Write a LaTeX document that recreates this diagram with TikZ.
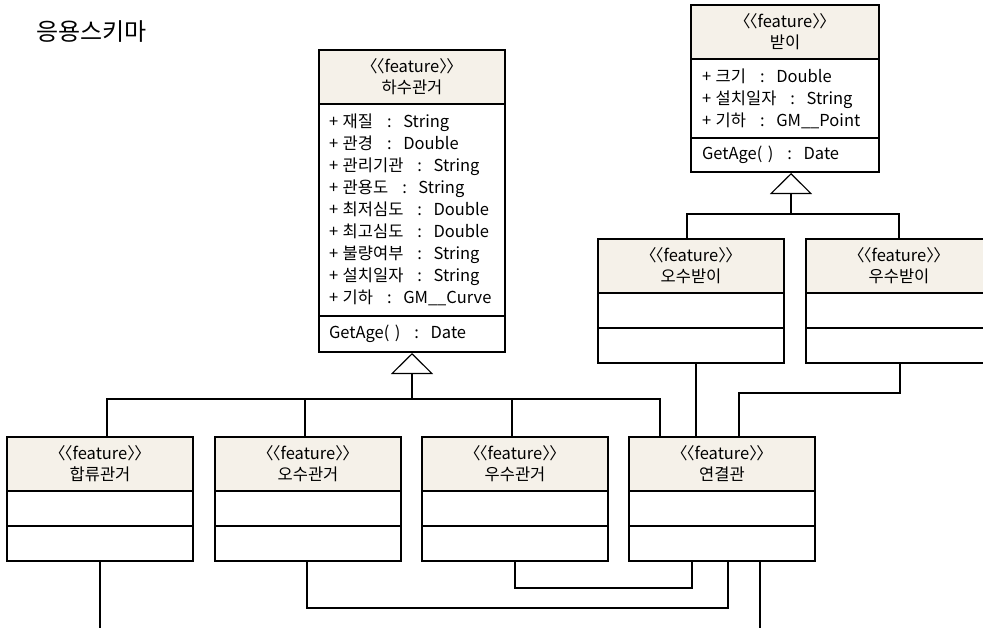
\documentclass[tikz,border=0pt]{standalone}
\usepackage{fontspec}
\setmainfont{Noto Sans CJK KR}
\usetikzlibrary{positioning,arrows.meta}
\definecolor{headfill}{RGB}{245,241,233}
\newcommand{\stereo}{\kern-0.5em〈\kern-0.58em〈feature〉\kern-0.58em〉\kern-0.5em}
\newcommand{\colsep}{\hspace{0.85em}:\hspace{0.7em}}
\begin{document}
\begin{tikzpicture}[x=1pt,y=-1pt,
  box/.style={draw,line width=1.1pt,outer sep=0pt,inner sep=0pt,minimum width=186pt},
  head/.style={box,fill=headfill,minimum height=54pt,align=center,font=\fontsize{16.5}{21}\selectfont},
  part/.style={box,minimum height=35pt,text width=166pt,align=left,font=\fontsize{16.5}{22}\selectfont},
  link/.style={line width=1.1pt},
  gen/.style={link,-{Triangle[open,length=21pt,width=42pt,line width=1.1pt]}}]
\clip (0,0) rectangle (983,627);
\node[anchor=west,font=\fontsize{24}{24}\selectfont] (title) at (33,32) {응용스키마};
% superclasses
\node[head,anchor=north west,minimum width=188pt] (pit-h) at (691,5) {\stereo\\받이};
\node[part,below=0pt of pit-h,minimum width=188pt,minimum height=79pt] (pit-a) {+\;크기\colsep Double\\+\;설치일자\colsep String\\+\;기하\colsep GM\_\_Point};
\node[part,below=0pt of pit-a,minimum width=188pt,minimum height=34pt] (pit-o) {GetAge(~)\colsep Date};
\node[head,anchor=north west] (sewer-h) at (319,50) {\stereo\\하수관거};
\node[part,below=0pt of sewer-h,minimum height=212pt] (sewer-a) {+\;재질\colsep String\\+\;관경\colsep Double\\+\;관리기관\colsep String\\+\;관용도\colsep String\\+\;최저심도\colsep Double\\+\;최고심도\colsep Double\\+\;불량여부\colsep String\\+\;설치일자\colsep String\\+\;기하\colsep GM\_\_Curve};
\node[part,below=0pt of sewer-a,minimum height=36pt] (sewer-o) {GetAge(~)\colsep Date};
% pits
\node[head,anchor=north west] (wpit-h) at (598,239) {\stereo\\오수받이};
\node[part,below=0pt of wpit-h] (wpit-a) {};
\node[part,below=0pt of wpit-a] (wpit-o) {};
\node[head,anchor=north west] (rpit-h) at (806,239) {\stereo\\우수받이};
\node[part,below=0pt of rpit-h] (rpit-a) {};
\node[part,below=0pt of rpit-a] (rpit-o) {};
% pipes
\node[head,anchor=north west] (comb-h) at (7,437) {\stereo\\합류관거};
\node[part,below=0pt of comb-h] (comb-a) {};
\node[part,below=0pt of comb-a] (comb-o) {};
\node[head,anchor=north west] (wsew-h) at (215,437) {\stereo\\오수관거};
\node[part,below=0pt of wsew-h] (wsew-a) {};
\node[part,below=0pt of wsew-a] (wsew-o) {};
\node[head,anchor=north west] (rsew-h) at (422,437) {\stereo\\우수관거};
\node[part,below=0pt of rsew-h] (rsew-a) {};
\node[part,below=0pt of rsew-a] (rsew-o) {};
\node[head,anchor=north west] (conn-h) at (629,437) {\stereo\\연결관};
\node[part,below=0pt of conn-h] (conn-a) {};
\node[part,below=0pt of conn-a] (conn-o) {};
% generalisation
\path (sewer-o.south) ++(0,47) coordinate (sewer-bus);
\draw[gen] (sewer-bus) -- ([yshift=-1pt]sewer-o.south);
\draw[link] ([xshift=7pt]comb-h.north) |- (sewer-bus) -| ([xshift=-62pt]conn-h.north);
\draw[link] ([xshift=-3pt]wsew-h.north) -- ([xshift=-3pt]wsew-h.north |- sewer-bus);
\draw[link] ([xshift=-3pt]rsew-h.north) -- ([xshift=-3pt]rsew-h.north |- sewer-bus);
\path ([xshift=6pt]pit-o.south) ++(0,42) coordinate (pit-bus);
\draw[gen] (pit-bus) -- ([xshift=6pt,yshift=-1pt]pit-o.south);
\draw[link] ([xshift=-4pt]wpit-h.north) |- (pit-bus) -| (rpit-h.north);
% associations
\draw[link] ([xshift=5pt]wpit-o.south) -- ([xshift=-26pt]conn-h.north);
\draw[link] ([xshift=1pt]rpit-o.south) |- ++(0,30) -| ([xshift=17pt]conn-h.north);
\draw[link] ([xshift=-1pt]wsew-o.south) -- ++(0,47) -| ([xshift=6pt]conn-o.south);
\draw[link] (rsew-o.south) -- ++(0,27) -| ([xshift=-30pt]conn-o.south);
\coordinate (comb-end) at (100,630);
\coordinate (conn-end) at (760,630);
\draw[link] (comb-o.south) -- (comb-end);
\draw[link] ([xshift=38pt]conn-o.south) -- (conn-end);
\end{tikzpicture}
\end{document}
